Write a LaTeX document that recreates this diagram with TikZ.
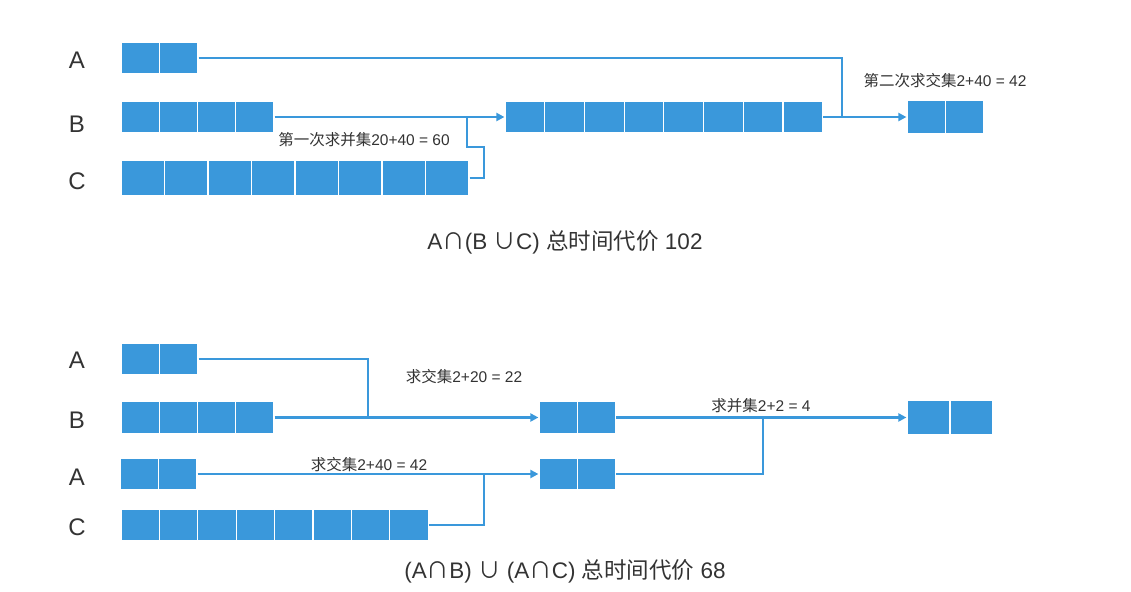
\documentclass[tikz,border=0pt]{standalone}
\usepackage{fontspec}
\setmainfont{Liberation Sans}
\newfontfamily\cjk{Noto Sans CJK SC}
\usetikzlibrary{arrows.meta}
\definecolor{cellblue}{HTML}{3A98DB}
\definecolor{inkgray}{HTML}{333333}

\begin{document}
\begin{tikzpicture}[x=1pt,y=-1pt,
    cell/.style={fill=cellblue, draw=white, line width=1.2pt, minimum height=32pt, inner sep=0pt},
    link/.style={draw=cellblue, line width=2.2pt},
    flow/.style={link, -{Triangle[length=8pt,width=8pt]}},
    rowname/.style={text=inkgray, font=\fontsize{24}{24}\selectfont},
    note/.style={text=inkgray, font=\fontsize{15.5}{18}\selectfont},
    total/.style={text=inkgray, font=\fontsize{22.5}{26}\selectfont}]
  \useasboundingbox (0,0) rectangle (1131,591);

  % A n (B u C)
  \node[rowname] (la) at (77,60) {A};
  \node[rowname] (lb) at (77,124) {B};
  \node[rowname] (lc) at (77,181) {C};
  \foreach \i in {1,2}
    \node[cell, minimum width=38.5pt] (ta\i) at ({121+38.5*(\i-0.5)},58) {};
  \foreach \i in {1,...,4}
    \node[cell, minimum width=38.25pt] (tb\i) at ({121+38.25*(\i-0.5)},117) {};
  \foreach \i in {1,...,8}
    \node[cell, minimum width=43.5pt, minimum height=35pt] (tc\i) at ({121+43.5*(\i-0.5)},178) {};
  \foreach \i in {1,...,8}
    \node[cell, minimum width=39.7pt] (tu\i) at ({505+39.7*(\i-0.5)},117) {};
  \foreach \i in {1,2}
    \node[cell, minimum width=38.5pt, minimum height=33pt] (tr\i) at ({907+38.5*(\i-0.5)},117) {};
  \coordinate (tj1) at (467,117);
  \coordinate (tj2) at (842,117);
  \draw[flow] (tb4.east) -- (tu1.west);
  \draw[link] (tc8.east) -| (484,147) -| (tj1);
  \draw[link] (ta2.east) -| (tj2);
  \draw[flow] (tu8.east) -- (tr1.west);
  \node[note] (n1) at (364,140) {{\cjk 第一次求并集}20+40 = 60};
  \node[note] (n2) at (945,81) {{\cjk 第二次求交集}2+40 = 42};
  \node[total] (t1) at (565,242) {A{\cjk ∩}(B {\cjk ∪}C) {\cjk 总时间代价} 102};

  % (A n B) u (A n C)
  \node[rowname] (la1) at (77,360) {A};
  \node[rowname] (lb1) at (77,420) {B};
  \node[rowname] (la2) at (77,477) {A};
  \node[rowname] (lc1) at (77,527) {C};
  \foreach \i in {1,2}
    \node[cell, minimum width=38.5pt] (ba\i) at ({121+38.5*(\i-0.5)},359) {};
  \foreach \i in {1,...,4}
    \node[cell, minimum width=38.25pt] (bb\i) at ({121+38.25*(\i-0.5)},417.5) {};
  \foreach \i in {1,2}
    \node[cell, minimum width=38.5pt] (bd\i) at ({120+38.5*(\i-0.5)},474) {};
  \foreach \i in {1,...,8}
    \node[cell, minimum width=38.4pt] (bc\i) at ({121+38.4*(\i-0.5)},525) {};
  \foreach \i in {1,2}
    \node[cell, minimum width=38.3pt] (bi\i) at ({539+38.3*(\i-0.5)},417.5) {};
  \foreach \i in {1,2}
    \node[cell, minimum width=38.3pt] (bk\i) at ({539+38.3*(\i-0.5)},474) {};
  \foreach \i in {1,2}
    \node[cell, minimum width=43pt, minimum height=35pt] (br\i) at ({907+43*(\i-0.5)},417.5) {};
  \coordinate (bj1) at (368,417.5);
  \coordinate (bj2) at (484,474);
  \coordinate (bj3) at (763,417.5);
  \draw[link] (ba2.east) -| (bj1);
  \draw[flow] (bb4.east) -- (bi1.west);
  \draw[flow] (bd2.east) -- (bk1.west);
  \draw[link] (bc8.east) -| (bj2);
  \draw[flow] (bi2.east) -- (br1.west);
  \draw[link] (bk2.east) -| (bj3);
  \node[note] (n3) at (464,377) {{\cjk 求交集}2+20 = 22};
  \node[note] (n4) at (369,465) {{\cjk 求交集}2+40 = 42};
  \node[note] (n5) at (761,406) {{\cjk 求并集}2+2 = 4};
  \node[total] (t2) at (565,571) {(A{\cjk ∩}B) {\cjk ∪} (A{\cjk ∩}C) {\cjk 总时间代价} 68};
\end{tikzpicture}
\end{document}
